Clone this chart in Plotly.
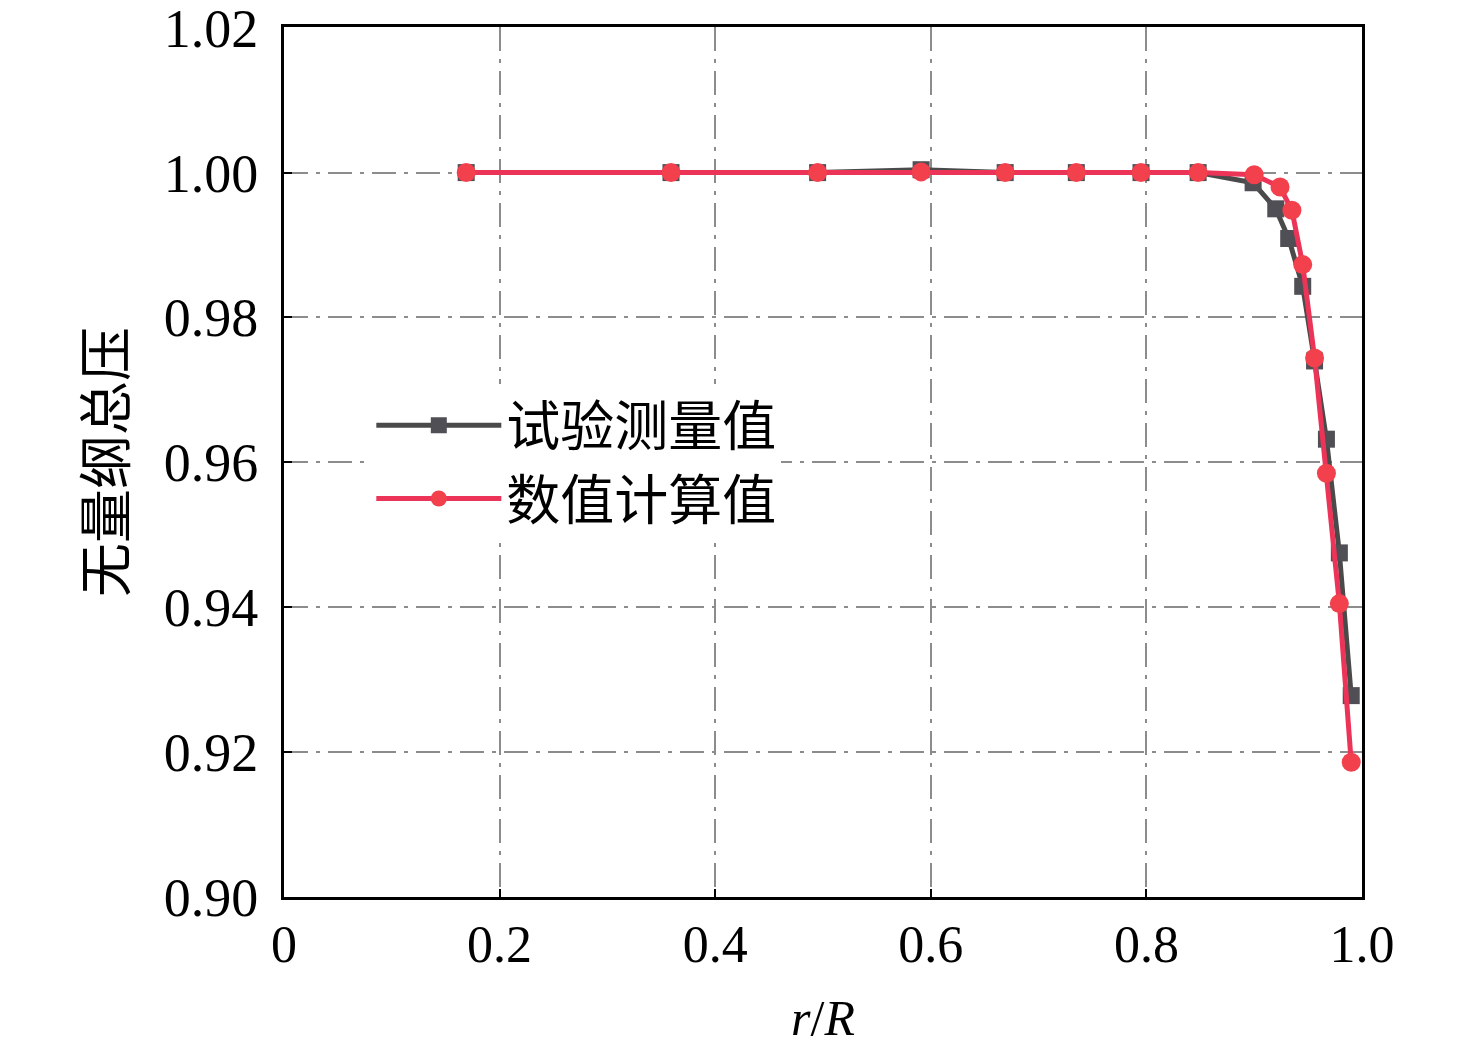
import plotly.graph_objects as go

# measured (试验测量值)
x_meas = [0.169, 0.359, 0.495, 0.591, 0.669, 0.735, 0.795, 0.848, 0.899, 0.920, 0.932, 0.945, 0.956, 0.967, 0.979, 0.990]
y_meas = [1.0000, 1.0000, 1.0000, 1.0004, 1.0000, 1.0000, 1.0000, 1.0000, 0.9986, 0.9950, 0.9909, 0.9843, 0.9740, 0.9632, 0.9475, 0.9278]
# computed (数值计算值)
x_calc = [0.169, 0.359, 0.495, 0.591, 0.669, 0.735, 0.795, 0.848, 0.900, 0.924, 0.935, 0.945, 0.956, 0.967, 0.979, 0.990]
y_calc = [1.0000, 1.0000, 1.0000, 1.0001, 1.0000, 1.0000, 1.0000, 1.0000, 0.9997, 0.9980, 0.9948, 0.9873, 0.9744, 0.9585, 0.9405, 0.9186]

x_ticks = [0, 0.2, 0.4, 0.6, 0.8, 1.0]
x_tick_text = ["0", "0.2", "0.4", "0.6", "0.8", "1.0"]
y_ticks = [0.90, 0.92, 0.94, 0.96, 0.98, 1.00, 1.02]
y_tick_text = ["0.90", "0.92", "0.94", "0.96", "0.98", "1.00", "1.02"]

FONT = "Liberation Serif, Times New Roman, Noto Sans CJK SC, serif"

fig = go.Figure()
fig.add_trace(go.Scatter(
    x=x_meas, y=y_meas, mode="lines+markers", name="试验测量值",
    line=dict(color="#4a4a4a", width=5),
    marker=dict(symbol="square", size=17, color="#4f4f55"),
))
fig.add_trace(go.Scatter(
    x=x_calc, y=y_calc, mode="lines+markers", name="数值计算值",
    line=dict(color="#ec3358", width=5),
    marker=dict(symbol="circle", size=19, color="#f2404c"),
))

grid = dict(showgrid=True, gridcolor="#8c8c8c", gridwidth=2, griddash="24px,8px,4px,8px")
fig.update_layout(
    width=1468, height=1042,
    margin=dict(l=276, r=114, t=19, b=153),
    paper_bgcolor="white", plot_bgcolor="white",
    font=dict(family=FONT, size=54, color="black"),
    showlegend=True,
    legend=dict(
        x=0.081, y=0.59, xanchor="left", yanchor="top",
        bgcolor="white", borderwidth=0,
        font=dict(family="Noto Sans CJK SC", size=54, color="black"),
        itemwidth=125, tracegroupgap=0,
    ),
    xaxis=dict(
        range=[0, 1.0], tickvals=x_ticks, ticktext=x_tick_text,
        showline=True, linecolor="black", linewidth=3, mirror=True,
        ticks="inside", ticklen=8, tickwidth=2, tickcolor="black",
        zeroline=False, automargin=False,
        tickfont=dict(family=FONT, size=52),
        title=dict(text="<i>r</i>/<i>R</i>", font=dict(family=FONT, size=50), standoff=28),
        **grid,
    ),
    yaxis=dict(
        range=[0.90, 1.0201], tickvals=y_ticks, ticktext=y_tick_text,
        showline=True, linecolor="black", linewidth=3, mirror=True,
        ticks="inside", ticklen=8, tickwidth=2, tickcolor="black",
        zeroline=False, automargin=False,
        tickfont=dict(family=FONT, size=54),
        ticklabelstandoff=12, ticklabeloverflow="allow",
        title=dict(text="无量纲总压", font=dict(family="Noto Sans CJK SC", size=54), standoff=20),
        **grid,
    ),
)

fig.write_html("out.html")
